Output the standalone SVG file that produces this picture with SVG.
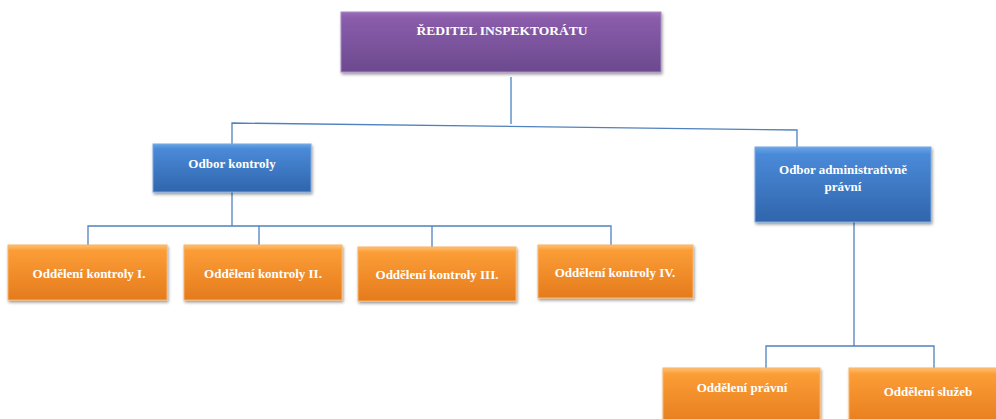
<svg xmlns="http://www.w3.org/2000/svg" width="996" height="419" viewBox="0 0 996 419">
<style>
.t{font-family:"Liberation Serif",serif;font-weight:bold;fill:#ffffff;text-anchor:middle;}
.s{font-size:13px;}
.c{stroke:#4f81bd;stroke-width:1.3;fill:none;}
</style>
<defs>
<linearGradient id="gp" x1="0" y1="0" x2="0" y2="1"><stop offset="0" stop-color="#9a6cb8"/><stop offset="0.1" stop-color="#8a5cab"/><stop offset="1" stop-color="#6b4a8e"/></linearGradient>
<linearGradient id="gb" x1="0" y1="0" x2="0" y2="1"><stop offset="0" stop-color="#6aa5e8"/><stop offset="0.1" stop-color="#4a8ad8"/><stop offset="1" stop-color="#3065ac"/></linearGradient>
<linearGradient id="go" x1="0" y1="0" x2="0" y2="1"><stop offset="0" stop-color="#ffc070"/><stop offset="0.1" stop-color="#fb9d36"/><stop offset="1" stop-color="#e57b1d"/></linearGradient>
<filter id="sh" x="-5%" y="-10%" width="115%" height="130%"><feDropShadow dx="1" dy="2" stdDeviation="1.5" flood-color="#000" flood-opacity="0.4"/></filter>
</defs>
<g id="connectors">
<path class="c" d="M511 77 V124"/>
<path class="c" d="M232 145 V123 L797 130 V147"/>
<path class="c" d="M232 192 V226"/>
<path class="c" d="M88 245 V226 H611 V245"/>
<path class="c" d="M259 226 V245"/>
<path class="c" d="M432 226 V247"/>
<path class="c" d="M854 222 V346"/>
<path class="c" d="M766 368 V346 H934 V368"/>
</g>
<g id="n-reditel"><rect x="341" y="12" width="320" height="60" fill="url(#gp)" stroke="#a98ac4" stroke-width="1" filter="url(#sh)"/><text class="t" x="502" y="35" font-size="13.5">ŘEDITEL INSPEKTORÁTU</text></g>
<g id="n-odbor-kontroly"><rect x="153" y="144" width="158" height="48" fill="url(#gb)" stroke="#7aa8e0" stroke-width="1" filter="url(#sh)"/><text class="t s" x="232" y="168">Odbor kontroly</text></g>
<g id="n-odbor-admin"><rect x="755" y="147" width="176" height="75" fill="url(#gb)" stroke="#7aa8e0" stroke-width="1" filter="url(#sh)"/><text class="t s" x="843" y="174">Odbor administrativně</text><text class="t s" x="843" y="191">právní</text></g>
<g id="n-k1"><rect x="8" y="245" width="159" height="55" fill="url(#go)" stroke="#f9b46a" stroke-width="1" filter="url(#sh)"/><text class="t s" x="89" y="278">Oddělení kontroly I.</text></g>
<g id="n-k2"><rect x="184" y="245" width="158" height="55" fill="url(#go)" stroke="#f9b46a" stroke-width="1" filter="url(#sh)"/><text class="t s" x="263" y="278">Oddělení kontroly II.</text></g>
<g id="n-k3"><rect x="358" y="247" width="158" height="54" fill="url(#go)" stroke="#f9b46a" stroke-width="1" filter="url(#sh)"/><text class="t s" x="437" y="279">Oddělení kontroly III.</text></g>
<g id="n-k4"><rect x="538" y="245" width="155" height="53" fill="url(#go)" stroke="#f9b46a" stroke-width="1" filter="url(#sh)"/><text class="t s" x="615" y="277">Oddělení kontroly IV.</text></g>
<g id="n-pravni"><rect x="663" y="368" width="157" height="60" fill="url(#go)" stroke="#f9b46a" stroke-width="1" filter="url(#sh)"/><text class="t s" x="742" y="392">Oddělení právní</text></g>
<g id="n-sluzeb"><rect x="849" y="368" width="160" height="60" fill="url(#go)" stroke="#f9b46a" stroke-width="1" filter="url(#sh)"/><text class="t s" x="928" y="396">Oddělení služeb</text></g>
</svg>
